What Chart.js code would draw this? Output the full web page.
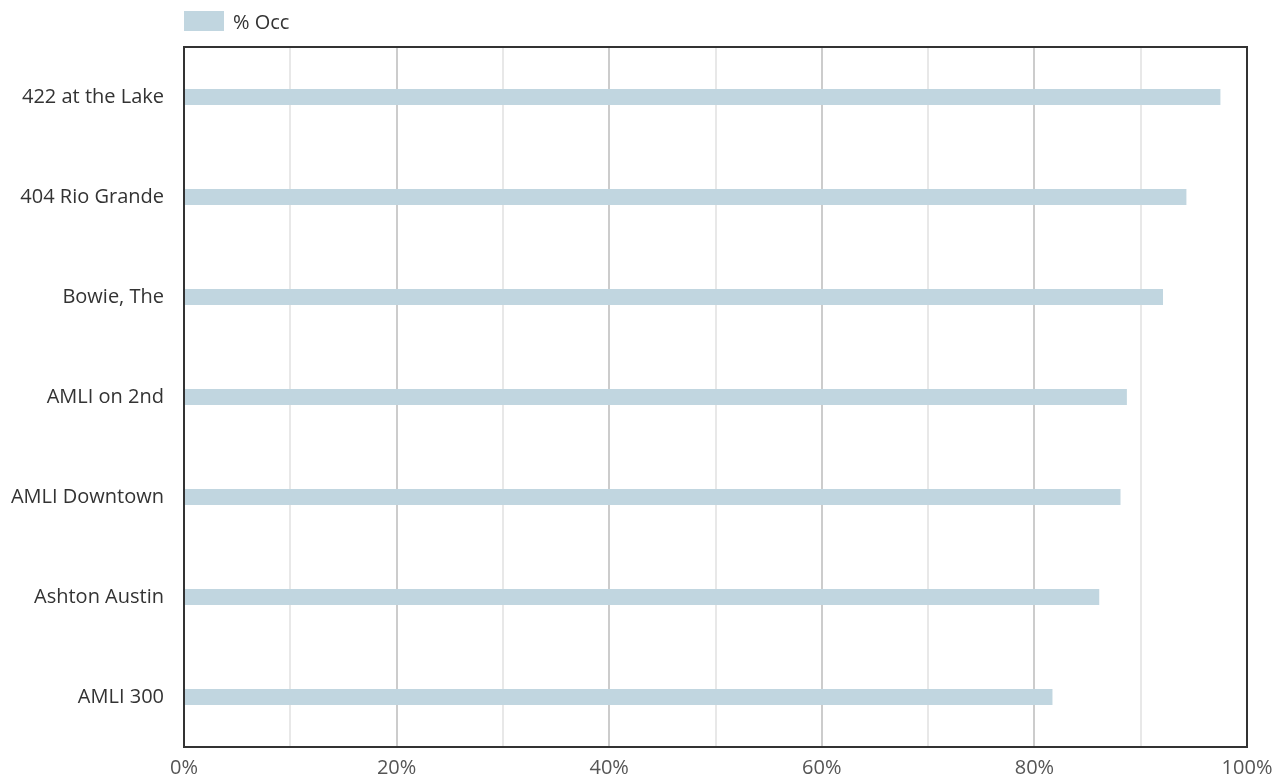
<!DOCTYPE html>
<html>
<head>
<meta charset="utf-8">
<script src="https://cdn.jsdelivr.net/npm/chart.js@4.4.1/dist/chart.umd.min.js"></script>
<style>
    html, body { margin: 0; padding: 0; background: #fff; }
    #wrap { position: relative; width: 1282px; height: 779px; }
    #legend {
        position: absolute; left: 184px; top: 11px;
        font: 20px 'Open Sans', sans-serif; color: #333;
        display: flex; align-items: center; height: 20px;
    }
    #legend .box { width: 40px; height: 20px; background: #c1d6e0; margin-right: 9px; }
</style>
</head>
<body>
<div id="wrap">
    <canvas id="occChart" width="1282" height="779"></canvas>
    <div id="legend"><span class="box"></span><span>% Occ</span></div>
</div>
<script>
const properties = ['422 at the Lake', '404 Rio Grande', 'Bowie, The', 'AMLI on 2nd', 'AMLI Downtown', 'Ashton Austin', 'AMLI 300'];
const occPct = [97.5, 94.3, 92.1, 88.7, 88.1, 86.1, 81.7];
const seriesLabel = '% Occ';

// frame around the plot area
const frame = {
    id: 'frame',
    afterDraw(chart) {
        const { ctx, chartArea: a } = chart;
        ctx.save();
        ctx.strokeStyle = '#333';
        ctx.lineWidth = 2;
        ctx.strokeRect(a.left, a.top, a.right - a.left, a.bottom - a.top);
        ctx.restore();
    }
};

const ctx = document.getElementById('occChart').getContext('2d');
new Chart(ctx, {
    type: 'bar',
    data: {
        labels: properties,
        datasets: [{
            label: seriesLabel,
            data: occPct,
            backgroundColor: '#c1d6e0',
            categoryPercentage: 1,
            barPercentage: 0.16
        }]
    },
    options: {
        responsive: false,
        animation: false,
        indexAxis: 'y',
        layout: { padding: { top: 47, right: 35, left: 0, bottom: 0 } },
        plugins: { legend: { display: false }, tooltip: { enabled: false } },
        scales: {
            x: {
                min: 0,
                max: 100,
                afterFit: s => { s.height = 32; },
                ticks: {
                    stepSize: 10,
                    padding: 9,
                    color: '#555',
                    font: { family: 'Open Sans', size: 20 },
                    maxRotation: 0,
                    autoSkip: false,
                    callback: v => (v % 20 === 0 ? v + '%' : '')
                },
                grid: {
                    drawTicks: false,
                    lineWidth: 2,
                    color: c => (c.tick && c.tick.value % 20 === 0 ? '#cccccc' : '#e8e8e8')
                },
                border: { display: false }
            },
            y: {
                afterFit: s => { s.width = 184; },
                ticks: {
                    padding: 20,
                    color: '#333',
                    font: { family: 'Open Sans', size: 20 }
                },
                grid: { display: false, drawTicks: false },
                border: { display: false }
            }
        }
    },
    plugins: [frame]
});
</script>
</body>
</html>
